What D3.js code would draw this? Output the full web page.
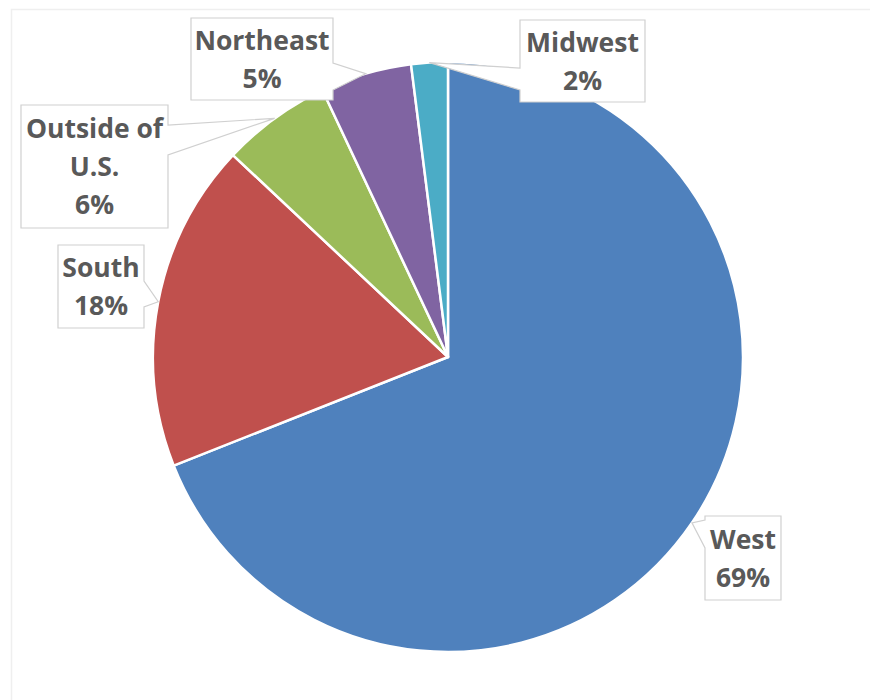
<!DOCTYPE html>
<html>
<head>
<meta charset="utf-8">
<script src="https://cdn.jsdelivr.net/npm/d3@7"></script>
<style>
  body { margin: 0; background: #fff; }
</style>
</head>
<body>
<script>
// data, clockwise from 12 o'clock
var regions = ["West", "South", "Outside of U.S.", "Northeast", "Midwest"];
var shares = [69, 18, 6, 5, 2];
var labelLines = [["West"], ["South"], ["Outside of", "U.S."], ["Northeast"], ["Midwest"]];
var colors = ["#4f81bd", "#c0504d", "#9bbb59", "#8064a2", "#4bacc6"];

// callout boxes (x, y, w, h) and which side the pointer leaves from
var calloutBoxes = [
  { "x": 705, "y": 516, "w": 76, "h": 84, "side": "left", "a": 4, "b": 32 },
  { "x": 58, "y": 245, "w": 86, "h": 83, "side": "right", "a": 36, "b": 62 },
  { "x": 21, "y": 105, "w": 147, "h": 123, "side": "right", "a": 20, "b": 50 },
  { "x": 191, "y": 18, "w": 142, "h": 82, "side": "right", "a": 45, "b": 72 },
  { "x": 520, "y": 20, "w": 125, "h": 82, "side": "left", "a": 48, "b": 70 }
];

var width = 870, height = 700;
var cx = 448, cy = 357, radius = 295;

var svg = d3.select("body").append("svg")
  .attr("width", width)
  .attr("height", height);

// faint chart-area border
svg.append("rect")
  .attr("x", 11.5).attr("y", 9.5)
  .attr("width", 870).attr("height", 720)
  .attr("fill", "none")
  .attr("stroke", "#efefef")
  .attr("stroke-width", 1.5);

var pie = d3.pie().sort(null).value(function(d) { return d; });
var arcs = pie(shares);
var arc = d3.arc().innerRadius(0).outerRadius(radius);

var g = svg.append("g").attr("transform", "translate(" + cx + "," + cy + ")");
g.selectAll("path")
  .data(arcs)
  .enter()
  .append("path")
  .attr("d", arc)
  .attr("fill", function(d, i) { return colors[i]; })
  .attr("stroke", "#fff")
  .attr("stroke-width", 2.5)
  .attr("stroke-linejoin", "round");

// callouts
function tip(d) {
  var a = (d.startAngle + d.endAngle) / 2;
  return [cx + radius * Math.sin(a), cy - radius * Math.cos(a)];
}

function calloutPath(b, t) {
  var x0 = b.x, y0 = b.y, x1 = b.x + b.w, y1 = b.y + b.h;
  var p;
  if (b.side == "right") {
    p = [[x0, y0], [x1, y0], [x1, y0 + b.a], t, [x1, y0 + b.b], [x1, y1], [x0, y1]];
  } else {
    p = [[x0, y0], [x1, y0], [x1, y1], [x0, y1], [x0, y0 + b.b], t, [x0, y0 + b.a]];
  }
  return "M" + p.map(function(q) { return q[0] + "," + q[1]; }).join("L") + "Z";
}

var callouts = svg.selectAll("g.callout")
  .data(arcs)
  .enter()
  .append("g")
  .attr("class", "callout");

callouts.append("path")
  .attr("d", function(d, i) { return calloutPath(calloutBoxes[i], tip(d)); })
  .attr("fill", "#fff")
  .attr("stroke", "#d0d0d0")
  .attr("stroke-width", 1.2);

var fontSize = 26.5, lineH = 38, capH = 19;
callouts.each(function(d, i) {
  var b = calloutBoxes[i];
  var lines = labelLines[i].concat([shares[i] + "%"]);
  var block = capH + (lines.length - 1) * lineH;
  var first = b.y + b.h / 2 - block / 2 + capH;
  var t = d3.select(this).append("text")
    .attr("font-family", "'Open Sans', sans-serif")
    .attr("font-weight", "bold")
    .attr("font-size", fontSize)
    .attr("fill", "#595959")
    .attr("text-anchor", "middle");
  lines.forEach(function(s, k) {
    t.append("tspan")
      .attr("x", b.x + b.w / 2)
      .attr("y", first + k * lineH)
      .text(s);
  });
});
</script>
</body>
</html>
